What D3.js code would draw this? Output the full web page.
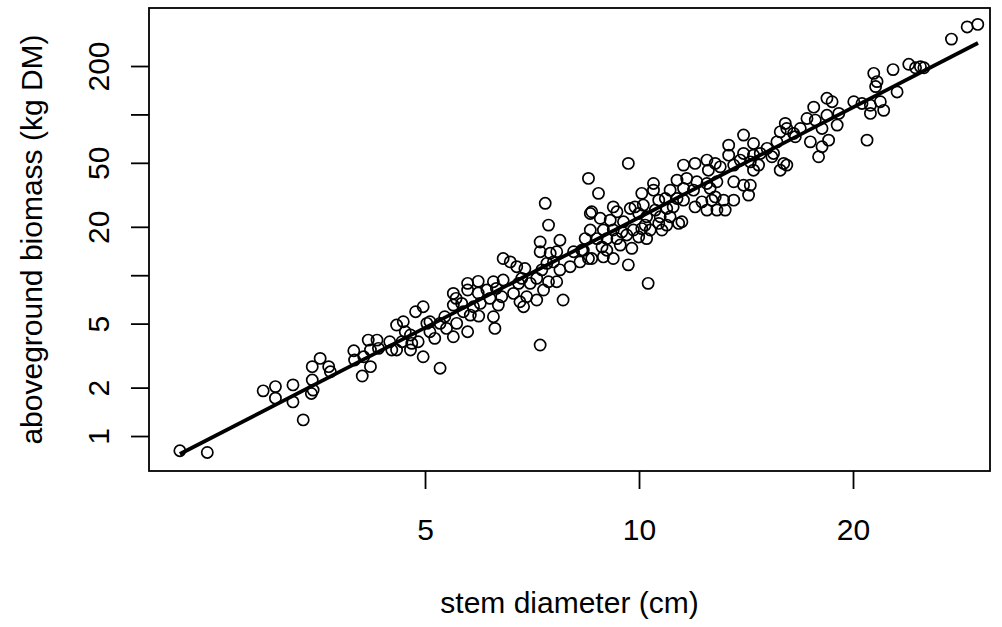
<!DOCTYPE html>
<html><head><meta charset="utf-8">
<script src="https://cdn.jsdelivr.net/npm/d3@7"></script>
<style>
body{margin:0;background:#fff}
text{font-family:"Liberation Sans", Arial, Helvetica, sans-serif;fill:#000}
</style>
</head><body><svg id="c" width="1002" height="627"></svg>
<script>
// stem diameter (cm)
const diameter = [
2.26,2.47,2.96,3.08,3.08,3.26,3.26,3.37,3.47,3.56,3.47,3.48,3.46,3.68,3.66,
4.08,3.97,3.98,4.10,4.16,4.19,4.28,4.30,4.19,4.46,4.49,4.56,4.64,4.56,4.66,
4.69,4.77,4.79,4.77,4.85,4.97,4.89,4.97,5.03,5.08,5.08,5.16,5.25,5.25,5.33,
5.36,5.48,5.48,5.48,5.54,5.63,5.66,5.74,5.74,5.74,5.94,5.94,5.95,5.53,
7.38,7.46,8.54,7.26,7.74,6.44,6.59,6.24,6.11,6.44,6.30,6.41,6.17,5.98,5.85,
5.79,6.24,6.27,6.34,6.73,6.84,6.91,6.77,6.66,6.80,6.88,6.95,7.18,7.03,7.18,
7.34,7.30,7.26,7.42,7.50,7.66,7.58,7.46,7.66,7.74,8.00,8.09,8.31,8.26,8.49,
7.82,7.26,
9.66,8.49,8.77,8.58,10.09,9.20,9.31,8.82,9.11,9.51,9.72,9.87,10.14,9.99,10.25,
8.54,8.91,9.20,9.46,9.82,10.09,8.40,8.73,9.01,9.31,9.61,9.99,8.35,8.58,8.87,
9.01,9.41,9.77,9.20,9.66,8.91,10.30,
11.55,11.99,12.46,12.80,12.52,11.31,11.67,12.06,12.46,12.87,10.48,10.48,11.06,
11.55,11.93,12.59,12.26,12.66,11.99,12.46,12.87,10.66,10.89,11.31,11.55,10.54,
10.94,11.17,10.71,11.06,10.20,10.66,10.94,11.37,11.49,10.37,10.77,10.25,
16.06,16.14,15.80,16.59,14.03,15.63,13.37,14.49,15.14,13.37,14.03,14.49,14.81,
15.46,15.38,13.88,14.34,14.73,14.49,13.01,13.59,15.98,16.14,15.80,13.59,14.03,
14.34,14.26,12.80,13.15,13.59,13.22,
21.39,22.77,21.62,21.52,23.07,18.38,18.69,20.05,20.59,21.16,21.85,22.09,21.16,
17.61,17.23,17.70,18.38,19.10,19.00,16.86,16.50,18.09,17.42,18.09,18.48,17.89,
20.93,28.95,29.96,27.51,23.96,24.49,24.88,25.16
];
// aboveground biomass (kg DM)
const biomass = [
0.81,0.79,1.91,2.03,1.72,2.08,1.63,1.26,2.70,3.04,2.23,1.93,1.84,2.51,2.70,
2.36,3.39,2.97,3.11,3.95,3.43,3.95,3.51,2.70,3.86,3.43,3.43,3.86,4.90,5.14,
4.45,4.25,3.77,3.43,5.93,6.37,3.86,3.11,5.02,5.14,4.45,4.05,5.02,2.64,5.52,
4.67,7.71,6.52,4.14,5.02,6.68,5.93,4.45,8.90,8.09,9.16,7.75,5.57,7.18,
28.0,20.5,24.2,16.1,16.5,12.7,12.1,9.11,8.09,9.33,8.28,7.35,7.18,6.68,6.37,
5.65,5.52,4.67,6.52,11.3,9.56,11.0,8.90,7.71,6.84,6.37,7.35,7.01,8.90,9.56,
8.09,10.8,14.0,11.85,13.7,14.0,12.1,9.11,9.11,10.8,11.3,14.0,14.3,12.1,12.7,
7.01,3.68,
49.6,40.0,32.3,24.8,32.3,26.6,24.8,22.6,22.0,21.5,26.0,26.6,27.3,24.2,23.1,
19.1,19.1,19.1,18.6,19.1,19.5,16.9,16.9,16.9,16.9,17.8,17.3,14.3,12.7,15.0,
14.3,15.4,14.7,12.7,11.6,13.0,8.90,
48.4,49.6,52.0,49.6,45.0,39.0,40.0,38.1,37.2,38.1,37.2,33.8,33.8,
34.7,33.8,34.7,28.6,29.3,26.6,25.4,25.4,29.3,30.0,30.0,29.3,25.4,
26.0,26.6,23.1,23.1,20.5,21.0,20.5,21.0,21.5,19.1,19.1,16.9,
87.9,81.8,77.9,72.6,74.4,67.5,64.4,66.0,61.5,55.8,57.2,55.8,57.2,
57.2,54.5,52.0,50.7,48.4,45.0,47.2,48.4,49.6,48.4,45.0,38.1,36.3,
36.3,31.5,30.7,29.3,29.3,25.4,
180,190,160,149,138,126,120,120,117,114,120,106,101.5,
111,94.4,92.2,98.8,101.5,85.8,81.8,76.2,81.8,67.5,63.0,69.2,54.5,
69.2,350,363,294,205,195,198,195
];
// fitted allometric line (end points)
const fitDiameter = [2.26, 29.98];
const fitBiomass = [0.773, 278];

const xTicks = [5, 10, 20];
const xTickLabels = ["5", "10", "20"];
const yTicks = [1, 2, 5, 10, 20, 50, 100, 200];
const yTickLabels = ["1", "2", "5", "", "20", "50", "", "200"];
const xTitle = "stem diameter (cm)";
const yTitle = "aboveground biomass (kg DM)";

// layout
const box = {l: 149, r: 990, t: 8, b: 471};
const svg = d3.select("#c");
const x = d3.scaleLog().domain([2.045, 31.17]).range([box.l, box.r]);
const y = d3.scaleLog().domain([0.606, 459]).range([box.b, box.t]);
const LW = 1.8;
const FS = 30;

// box
svg.append("rect").attr("x", box.l).attr("y", box.t)
  .attr("width", box.r - box.l).attr("height", box.b - box.t)
  .attr("fill", "none").attr("stroke", "#000").attr("stroke-width", LW);

// x axis
const xAxis = d3.axisBottom(x).tickValues(xTicks)
  .tickFormat((d, i) => xTickLabels[i]).tickSize(18).tickPadding(0);
const gx = svg.append("g").attr("transform", `translate(0,${box.b})`).call(xAxis);
gx.select(".domain").remove();
gx.selectAll(".tick line").attr("stroke", "#000").attr("stroke-width", LW);
gx.selectAll(".tick text").attr("y", 69).attr("dy", 0)
  .style("font-size", FS + "px").style("font-family", "Liberation Sans, Arial, sans-serif").attr("fill", "#000");

// y axis
const yAxis = d3.axisLeft(y).tickValues(yTicks)
  .tickFormat((d, i) => yTickLabels[i]).tickSize(18).tickPadding(0);
const gy = svg.append("g").attr("transform", `translate(${box.l},0)`).call(yAxis);
gy.select(".domain").remove();
gy.selectAll(".tick line").attr("stroke", "#000").attr("stroke-width", LW);
gy.selectAll(".tick text")
  .attr("x", 0).attr("dy", 0)
  .attr("transform", "translate(-40,0) rotate(-90)")
  .attr("text-anchor", "middle")
  .style("font-size", FS + "px").style("font-family", "Liberation Sans, Arial, sans-serif").attr("fill", "#000");

// titles
svg.append("text").attr("x", (box.l + box.r) / 2).attr("y", 613)
  .attr("text-anchor", "middle").style("font-size", FS + "px").text(xTitle);
svg.append("text").attr("transform", `translate(42,${(box.t + box.b) / 2}) rotate(-90)`)
  .attr("text-anchor", "middle").style("font-size", FS + "px").text(yTitle);

// points
const pts = diameter.map((d, i) => ({d, b: biomass[i]}));
const clip = svg.append("clipPath").attr("id", "clip").append("rect")
  .attr("x", box.l).attr("y", box.t).attr("width", box.r - box.l).attr("height", box.b - box.t);
const plot = svg.append("g").attr("clip-path", "url(#clip)");
plot.selectAll("circle.pt").data(pts).enter().append("circle")
  .attr("class", "pt")
  .attr("cx", p => x(p.d)).attr("cy", p => y(p.b)).attr("r", 5.6)
  .attr("fill", "none").attr("stroke", "#000").attr("stroke-width", 1.7);

// fitted line
const fit = fitDiameter.map((d, i) => [d, fitBiomass[i]]);
plot.append("path").datum(fit)
  .attr("d", d3.line().x(p => x(p[0])).y(p => y(p[1])))
  .attr("fill", "none").attr("stroke", "#000").attr("stroke-width", 3.75);
</script>
</body></html>
